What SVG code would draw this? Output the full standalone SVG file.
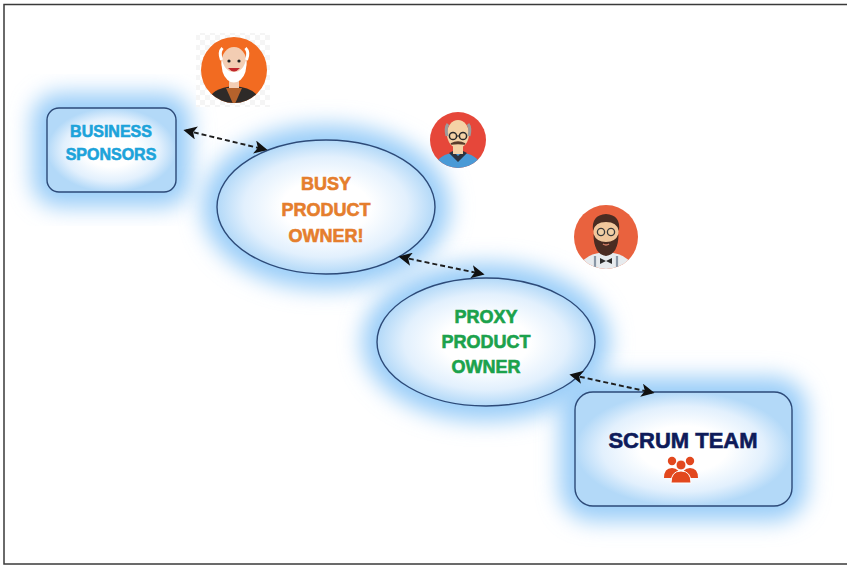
<svg xmlns="http://www.w3.org/2000/svg" width="847" height="567" viewBox="0 0 847 567">
  <style>
    .lbl { font-family: "Liberation Sans", Arial, sans-serif; font-weight: bold; text-anchor: middle; stroke-width: 0.6; }
    .halo { fill: #9ACDF8; stroke: #9ACDF8; stroke-width: 30; filter: url(#blur); }
    .edge { stroke: #2D4A78; stroke-width: 1.4; }
    .link { fill: none; stroke: #1E1E1E; stroke-width: 1.9; stroke-dasharray: 5 3; marker-start: url(#head); marker-end: url(#head); }
  </style>
  <defs>
    <filter id="blur" x="-40%" y="-40%" width="180%" height="180%">
      <feGaussianBlur stdDeviation="11"/>
    </filter>
    <radialGradient id="inner" cx="0.5" cy="0.5" r="0.5">
      <stop offset="0.4" stop-color="#FFFFFF"/>
      <stop offset="0.75" stop-color="#E2F0FD"/>
      <stop offset="1" stop-color="#B3D9F8"/>
    </radialGradient>
    <marker id="head" viewBox="0 0 10 10" refX="8" refY="5" markerWidth="7" markerHeight="7" orient="auto-start-reverse">
      <path d="M0,0 L10,5 L0,10 L2.5,5 Z" fill="#111"/>
    </marker>
    <pattern id="checker" width="10" height="10" patternUnits="userSpaceOnUse">
      <rect width="10" height="10" fill="#FFFFFF"/>
      <rect width="5" height="5" fill="#F5F5F5"/>
      <rect x="5" y="5" width="5" height="5" fill="#F5F5F5"/>
    </pattern>
    <clipPath id="c1"><circle cx="234" cy="70" r="33"/></clipPath>
    <clipPath id="c2"><circle cx="458" cy="140" r="28"/></clipPath>
    <clipPath id="c3"><circle cx="606" cy="237" r="32"/></clipPath>
  </defs>

  <!-- page frame -->
  <rect x="0" y="0" width="847" height="567" fill="#FFFFFF"/>
  <rect x="4" y="4.5" width="845" height="559.5" fill="none" stroke="#3A3A3A" stroke-width="1.5"/>

  <!-- glows behind every node -->
  <rect class="halo" x="47" y="108" width="129" height="84" rx="12"/>
  <ellipse class="halo" cx="326" cy="207" rx="109" ry="67"/>
  <ellipse class="halo" cx="486" cy="342" rx="109" ry="64"/>
  <rect class="halo" x="575" y="392" width="217" height="114" rx="18"/>

  <g id="business-sponsors">
    <rect class="edge" x="47" y="108" width="129" height="84" rx="12" fill="url(#inner)"/>
    <text class="lbl" x="111" y="137" font-size="16" fill="#1DA3DA" stroke="#1DA3DA">BUSINESS</text>
    <text class="lbl" x="111" y="160" font-size="16" fill="#1DA3DA" stroke="#1DA3DA">SPONSORS</text>
  </g>

  <g id="busy-product-owner">
    <ellipse class="edge" cx="326" cy="207" rx="109" ry="67" fill="url(#inner)"/>
    <text class="lbl" x="326" y="190" font-size="18" fill="#E57E2D" stroke="#E57E2D">BUSY</text>
    <text class="lbl" x="326" y="216" font-size="18" fill="#E57E2D" stroke="#E57E2D">PRODUCT</text>
    <text class="lbl" x="326" y="242" font-size="18" fill="#E57E2D" stroke="#E57E2D">OWNER!</text>
  </g>

  <g id="proxy-product-owner">
    <ellipse class="edge" cx="486" cy="342" rx="109" ry="64" fill="url(#inner)"/>
    <text class="lbl" x="486" y="323" font-size="18" fill="#1BA24C" stroke="#1BA24C">PROXY</text>
    <text class="lbl" x="486" y="348" font-size="18" fill="#1BA24C" stroke="#1BA24C">PRODUCT</text>
    <text class="lbl" x="486" y="373" font-size="18" fill="#1BA24C" stroke="#1BA24C">OWNER</text>
  </g>

  <g id="scrum-team">
    <rect class="edge" x="575" y="392" width="217" height="114" rx="18" fill="url(#inner)"/>
    <text class="lbl" x="683" y="448" font-size="22" fill="#0E1B5A" stroke="#0E1B5A">SCRUM TEAM</text>
    <!-- team icon: three people -->
    <g fill="#E2481E">
      <circle cx="672" cy="461" r="4.2"/>
      <path d="M664,478 q0,-10 8,-10 q8,0 8,10 z"/>
      <circle cx="690" cy="461" r="4.2"/>
      <path d="M682,478 q0,-10 8,-10 q8,0 8,10 z"/>
      <circle cx="681" cy="465" r="5" stroke="#FFFFFF" stroke-width="1"/>
      <path d="M671,483 q0,-12 10,-12 q10,0 10,12 z" stroke="#FFFFFF" stroke-width="1"/>
    </g>
  </g>

  <!-- avatars -->
  <g id="avatar-sponsor">
    <rect x="196" y="33" width="74" height="74" fill="url(#checker)"/>
    <circle cx="234" cy="70" r="33" fill="#F26B21"/>
    <g clip-path="url(#c1)">
      <path d="M206,110 q0,-22 28,-24 q28,2 28,24 z" fill="#2E2A28"/>
      <path d="M226,88 L234,106 L242,88 z" fill="#B5622C"/>
      <rect x="229" y="78" width="10" height="10" fill="#F3CDB3"/>
      <ellipse cx="234" cy="62" rx="12.5" ry="15" fill="#F3CDB3"/>
      <path d="M221.5,58 q-1,16 6,22 q6,5 13,0 q7,-6 6,-22 q-3,14 -12.5,14 q-9.5,0 -12.5,-14 z" fill="#FFFFFF"/>
      <path d="M221.5,60 q-3,-8 1,-12 M246.5,60 q3,-8 -1,-12" stroke="#FFFFFF" stroke-width="3" fill="none"/>
      <circle cx="229" cy="61" r="1.6" fill="#222"/>
      <circle cx="239" cy="61" r="1.6" fill="#222"/>
      <path d="M228,68 q6,7 12,0 z" fill="#C0272D"/>
    </g>
  </g>

  <g id="avatar-owner">
    <circle cx="458" cy="140" r="28" fill="#E6473A"/>
    <g clip-path="url(#c2)">
      <path d="M434,172 q0,-18 24,-20 q24,2 24,20 z" fill="#4A9AD6"/>
      <path d="M449,153 l9,9 l9,-9 l-4,-2 l-5,5 l-5,-5 z" fill="#2C3440"/>
      <rect x="453" y="145" width="10" height="9" fill="#F4D2A6"/>
      <ellipse cx="458" cy="134" rx="11" ry="14" fill="#F4D2A6"/>
      <path d="M447,136 q-2,-8 1,-12 M469,136 q2,-8 -1,-12" stroke="#9C9C9C" stroke-width="3" fill="none"/>
      <circle cx="453" cy="136" r="3.6" fill="none" stroke="#2B2B2B" stroke-width="1.5"/>
      <circle cx="463" cy="136" r="3.6" fill="none" stroke="#2B2B2B" stroke-width="1.5"/>
      <line x1="456.6" y1="136" x2="459.4" y2="136" stroke="#2B2B2B" stroke-width="1.2"/>
      <path d="M451,144 q7,-4 14,0 q-7,-1 -14,0 z" fill="#5A3B2A" stroke="#5A3B2A" stroke-width="1.6"/>
    </g>
  </g>

  <g id="avatar-proxy">
    <circle cx="606" cy="237" r="32" fill="#E9623E"/>
    <g clip-path="url(#c3)">
      <path d="M579,272 q0,-18 27,-20 q27,2 27,20 z" fill="#E7EBEE"/>
      <line x1="595" y1="256" x2="595" y2="272" stroke="#8A97A6" stroke-width="2.2"/>
      <line x1="617" y1="256" x2="617" y2="272" stroke="#8A97A6" stroke-width="2.2"/>
      <path d="M600,258 l6,3 l6,-3 v6 l-6,-3 l-6,3 z" fill="#2B2B2B"/>
      <ellipse cx="606" cy="231" rx="12.5" ry="15" fill="#F1C79C"/>
      <path d="M593,231 q-2,-16 13,-17 q15,1 13,17 q-2,-9 -13,-9 q-11,0 -13,9 z" fill="#4A2C22"/>
      <path d="M593.5,234 q0,20 12.5,22 q12.5,-2 12.5,-22 q-3,8 -12.5,8 q-9.5,0 -12.5,-8 z" fill="#4A2C22"/>
      <circle cx="601" cy="232" r="3.6" fill="#F6E2B8" fill-opacity="0.4" stroke="#3A3A3A" stroke-width="1.3"/>
      <circle cx="611" cy="232" r="3.6" fill="#F6E2B8" fill-opacity="0.4" stroke="#3A3A3A" stroke-width="1.3"/>
      <path d="M603,244 q3,2 6,0" stroke="#D9826A" stroke-width="1.5" fill="none"/>
    </g>
  </g>

  <g id="connectors">
    <line class="link" x1="186" y1="130.5" x2="265" y2="149.5"/>
    <line class="link" x1="401" y1="257" x2="482" y2="274"/>
    <line class="link" x1="572" y1="375" x2="652" y2="392.5"/>
  </g>
</svg>
